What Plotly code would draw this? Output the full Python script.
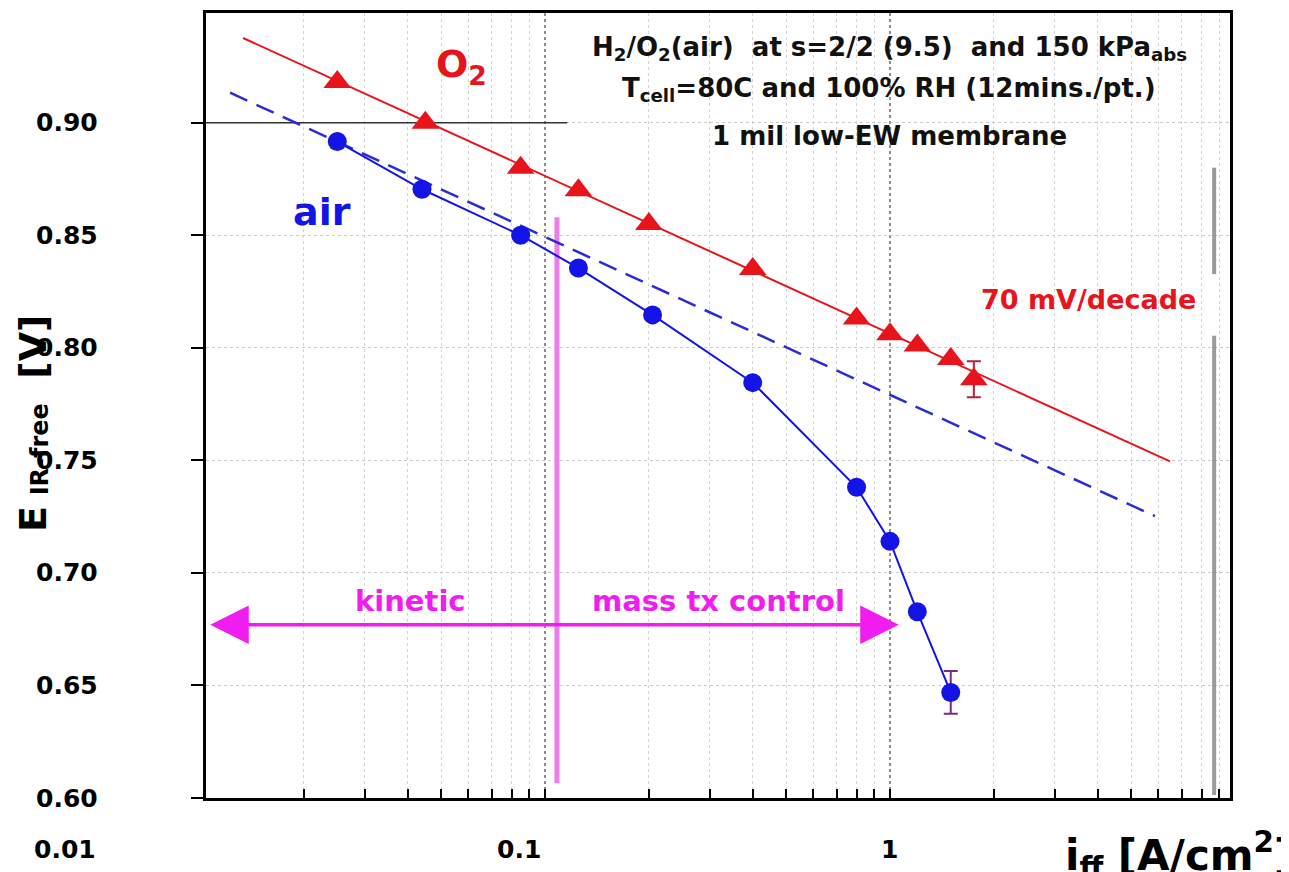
import numpy as np
import plotly.graph_objects as go

# ---------------- data ----------------
o2_i = [0.025, 0.045, 0.085, 0.125, 0.2, 0.4, 0.8, 1.0, 1.2, 1.5, 1.75]
o2_E = [0.918, 0.900, 0.880, 0.870, 0.855, 0.835, 0.813, 0.806, 0.801, 0.795, 0.786]
o2_err = [0, 0, 0, 0, 0, 0, 0, 0, 0, 0, 0.008]

air_i = [0.025, 0.044, 0.085, 0.125, 0.205, 0.4, 0.8, 1.0, 1.2, 1.5]
air_E = [0.8916, 0.8704, 0.850, 0.8354, 0.8146, 0.7845, 0.738, 0.714, 0.6827, 0.6469]
air_err = [0, 0, 0, 0, 0, 0, 0, 0, 0, 0.0095]

o2_fit_i = [0.01333, 6.48]
o2_fit_E = [0.9376, 0.7495]
air_fit_i = [0.01222, 5.86]
air_fit_E = [0.9133, 0.7252]

ref_line_i = [0.0104, 0.116]
ref_line_E = [0.90, 0.90]
split_i = [0.1083, 0.1083]
split_E = [0.858, 0.6066]
arrow_i = [0.0106, 1.06]
arrow_E = 0.677
gray_i = [8.7, 8.7]
gray_E1 = [0.880, 0.8327]
gray_E2 = [0.8053, 0.6013]

x_ticks = ["0.01", "0.1", "1"]
y_ticks = [0.60, 0.65, 0.70, 0.75, 0.80, 0.85, 0.90]

RED = "#e8141c"
BLUE = "#1414e6"
MAG = "#f01cf0"
FONT = "DejaVu Sans, Liberation Sans, Arial, sans-serif"

fig = go.Figure()

# helper lines
fig.add_trace(go.Scatter(x=ref_line_i, y=ref_line_E, mode="lines",
                         line=dict(color="#333333", width=1.5), hoverinfo="skip"))
for ys in (gray_E1, gray_E2):
    fig.add_trace(go.Scatter(x=gray_i, y=ys, mode="lines",
                             line=dict(color="#9a9a9a", width=4), hoverinfo="skip"))
fig.add_trace(go.Scatter(x=split_i, y=split_E, mode="lines",
                         line=dict(color="rgba(235,110,235,0.9)", width=5), hoverinfo="skip"))

# fits
fig.add_trace(go.Scatter(x=air_fit_i, y=air_fit_E, mode="lines",
                         line=dict(color="#2c2cd6", width=2.5, dash="19px,10px")))
fig.add_trace(go.Scatter(x=o2_fit_i, y=o2_fit_E, mode="lines",
                         line=dict(color=RED, width=2)))

# data
fig.add_trace(go.Scatter(x=air_i, y=air_E, mode="lines+markers",
                         line=dict(color=BLUE, width=2),
                         marker=dict(symbol="circle", size=19, color=BLUE),
                         error_y=dict(type="data", array=air_err, color="#7a2a8a",
                                      thickness=2, width=7)))
fig.add_trace(go.Scatter(x=o2_i, y=o2_E, mode="markers",
                         marker=dict(symbol="triangle-up", size=24, color=RED),
                         error_y=dict(type="data", array=o2_err, color="#b02040",
                                      thickness=2, width=7)))

# page has an 8px body margin; figure sized so that it fits the window
OFF = 8
W, H = 1281, 864
L, T = 198, 2
pw, ph = 1024, 788
R, B = W - L - pw, H - T - ph


def px(x):
    return (x - OFF - L) / pw


def py(y):
    return (T + ph - (y - OFF)) / ph


def txt(x, y, text, size, color="black", xanchor="center", angle=0):
    return dict(x=px(x), y=py(y), xref="paper", yref="paper", text=text,
                showarrow=False, xanchor=xanchor, yanchor="middle", textangle=angle,
                font=dict(family=FONT, size=size, color=color, weight="bold"))


ann = []
# y tick labels
for v in y_ticks:
    ann.append(dict(x=px(100), y=v, xref="paper", yref="y", text=f"{v:.2f}",
                    showarrow=False, xanchor="right", yanchor="middle",
                    font=dict(family=FONT, size=25, color="black", weight="bold")))
# x tick labels
for lab, xp in zip(x_ticks, [65, 519, 889]):
    ann.append(txt(xp, 850, lab, 25))
# axis titles (y title built from pieces: E, subscript, unit)
ann.append(txt(33, 518, "E", 38, angle=-90))
ann.append(txt(40, 448, "IR-free", 24, angle=-90))
ann.append(txt(33, 345, "[V]", 38, angle=-90))
ann.append(txt(1063, 855, "i<sub>ff</sub> [A/cm<sup>2</sup>]", 42, xanchor="left"))
# labels
ann.append(txt(461, 64, "O<sub>2</sub>", 38, RED))
ann.append(txt(322, 210, "air", 38, BLUE))
ann.append(txt(1088, 298, "70 mV/decade", 27, RED))
ann.append(txt(410, 600, "kinetic", 29, MAG))
ann.append(txt(718, 600, "mass tx control", 29, MAG))
hdr = ["H<sub>2</sub>/O<sub>2</sub>(air)  at s=2/2 (9.5)  and 150 kPa<sub>abs</sub>",
       "T<sub>cell</sub>=80C and 100% RH (12mins./pt.)",
       "1 mil low-EW membrane"]
for t, yy in zip(hdr, [46, 87, 133]):
    ann.append(txt(889, yy, t, 26, "#111111"))
# double arrow
ann.append(dict(x=np.log10(arrow_i[1]), y=arrow_E, ax=np.log10(arrow_i[0]), ay=arrow_E,
                xref="x", yref="y", axref="x", ayref="y", text="", showarrow=True,
                arrowhead=2, startarrowhead=2, arrowside="end+start",
                arrowsize=2.2, startarrowsize=2.2, arrowwidth=3.5, arrowcolor=MAG))

minor_vals = [m * 10.0 ** e for e in (-2, -1, 0) for m in range(2, 10)]

fig.update_layout(
    width=W, height=H,
    margin=dict(l=L, r=R, t=T, b=B),
    paper_bgcolor="white", plot_bgcolor="white",
    showlegend=False,
    annotations=ann,
    xaxis=dict(type="log", range=[-1.9826, 0.9855],
               tickvals=[0.01, 0.1, 1], showticklabels=False,
               ticks="inside", ticklen=9, tickwidth=2, tickcolor="black",
               showgrid=True, gridcolor="#8c8c8c", griddash="dot", gridwidth=1.5,
               minor=dict(tickvals=minor_vals, ticks="inside", ticklen=9,
                          tickwidth=1.5, tickcolor="black",
                          showgrid=True, gridcolor="#d4d4d4", griddash="dot", gridwidth=1),
               showline=True, linecolor="black", linewidth=3, mirror=True,
               zeroline=False),
    yaxis=dict(range=[0.60, 0.9487], tickvals=y_ticks, showticklabels=False,
               ticks="outside", ticklen=12, tickwidth=2, tickcolor="black",
               showgrid=True, gridcolor="#cccccc", griddash="dot", gridwidth=1,
               showline=True, linecolor="black", linewidth=3, mirror=True,
               zeroline=False),
)

fig.write_html("out.html")
